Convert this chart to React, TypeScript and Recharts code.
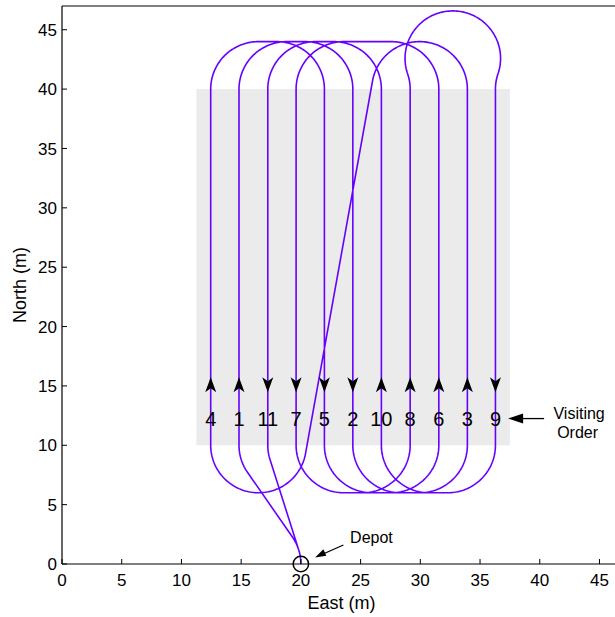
import React from 'react';
import {
  ComposedChart,
  Line,
  Scatter,
  XAxis,
  YAxis,
  ReferenceArea,
  ReferenceDot,
} from 'recharts';

// lanes of the coverage field, left to right
const laneX = [12.45, 14.82, 17.23, 19.6, 21.97, 24.35, 26.74, 29.15, 31.55, 33.94, 36.29];
const visitOrder = [4, 1, 11, 7, 5, 2, 10, 8, 6, 3, 9];
const laneDir = ['up', 'up', 'down', 'down', 'down', 'down', 'up', 'up', 'up', 'up', 'down'];
const laneBottom = 10;
const laneTop = 40;
const turnRadius = 4;
const depot = { x: 20, y: 0 };
const depotHeadingOut = 90;
const depotHeadingIn = 270;
const field = { x1: 11.25, x2: 37.5, y1: 10, y2: 40 };
const arrowY = 15.1;
const orderLabelY = 12.2;
const depotNote = { x: 21.19, y: 0.55 };
const orderNote = { x: 37.35, y: 12.25 };

const xTicks = [0, 5, 10, 15, 20, 25, 30, 35, 40, 45];
const yTicks = [0, 5, 10, 15, 20, 25, 30, 35, 40, 45];

const FONT = '"Liberation Sans", Arial, Helvetica, sans-serif';
const ROUTE = '#6600ff';

type Pt = { x: number; y: number };
type Pose = { x: number; y: number; h: number };
type Turn = 'L' | 'R';
const R = turnRadius;

function center(p: Pose, t: Turn): Pt {
  const s = t === 'L' ? 1 : -1;
  return { x: p.x - s * R * Math.sin(p.h), y: p.y + s * R * Math.cos(p.h) };
}

function sweep(c: Pt, from: Pt, to: Pt, t: Turn) {
  const a0 = Math.atan2(from.y - c.y, from.x - c.x);
  let a1 = Math.atan2(to.y - c.y, to.x - c.x);
  if (t === 'L') {
    while (a1 < a0 - 1e-6) a1 += 2 * Math.PI;
  } else {
    while (a1 > a0 + 1e-6) a1 -= 2 * Math.PI;
  }
  return [a0, a1];
}

function arc(c: Pt, from: Pt, to: Pt, t: Turn): Pt[] {
  const [a0, a1] = sweep(c, from, to, t);
  const n = Math.max(2, Math.ceil(Math.abs(a1 - a0) / (Math.PI / 90)));
  const out: Pt[] = [];
  for (let i = 0; i <= n; i++) {
    const a = a0 + ((a1 - a0) * i) / n;
    out.push({ x: c.x + R * Math.cos(a), y: c.y + R * Math.sin(a) });
  }
  return out;
}

function arcLen(c: Pt, from: Pt, to: Pt, t: Turn) {
  const [a0, a1] = sweep(c, from, to, t);
  return Math.abs(a1 - a0) * R;
}

// circle - straight - circle turn between two poses
function csc(p0: Pose, p1: Pose, w0: Turn, w1: Turn) {
  const c0 = center(p0, w0);
  const c1 = center(p1, w1);
  const vx = c1.x - c0.x;
  const vy = c1.y - c0.y;
  const D = Math.hypot(vx, vy);
  let dx: number;
  let dy: number;
  if (w0 === w1) {
    if (D < 1e-9) return null;
    dx = vx / D;
    dy = vy / D;
  } else {
    if (D < 2 * R) return null;
    const L = Math.sqrt(D * D - 4 * R * R);
    const k = w0 === 'L' ? -2 * R : 2 * R;
    dx = (vx * L + vy * k) / (D * D);
    dy = (vy * L - vx * k) / (D * D);
  }
  const s0 = w0 === 'L' ? 1 : -1;
  const s1 = w1 === 'L' ? 1 : -1;
  const t0 = { x: c0.x + s0 * R * dy, y: c0.y - s0 * R * dx };
  const t1 = { x: c1.x + s1 * R * dy, y: c1.y - s1 * R * dx };
  const len =
    arcLen(c0, p0, t0, w0) + Math.hypot(t1.x - t0.x, t1.y - t0.y) + arcLen(c1, t1, p1, w1);
  const pts = [...arc(c0, p0, t0, w0), ...arc(c1, t1, p1, w1)];
  return { len, pts };
}

// three circle (keyhole) turn
function ccc(p0: Pose, p1: Pose, outer: Turn, side: number) {
  const mid: Turn = outer === 'L' ? 'R' : 'L';
  const c0 = center(p0, outer);
  const c2 = center(p1, outer);
  const vx = c2.x - c0.x;
  const vy = c2.y - c0.y;
  const D = Math.hypot(vx, vy);
  if (D > 4 * R || D < 1e-9) return null;
  const h = Math.sqrt(4 * R * R - (D / 2) * (D / 2));
  const c1 = {
    x: (c0.x + c2.x) / 2 - side * h * (vy / D),
    y: (c0.y + c2.y) / 2 + side * h * (vx / D),
  };
  const t0 = { x: (c0.x + c1.x) / 2, y: (c0.y + c1.y) / 2 };
  const t1 = { x: (c1.x + c2.x) / 2, y: (c1.y + c2.y) / 2 };
  const len = arcLen(c0, p0, t0, outer) + arcLen(c1, t0, t1, mid) + arcLen(c2, t1, p1, outer);
  const pts = [...arc(c0, p0, t0, outer), ...arc(c1, t0, t1, mid), ...arc(c2, t1, p1, outer)];
  return { len, pts };
}

function dubins(p0: Pose, p1: Pose): Pt[] {
  const options = [
    csc(p0, p1, 'L', 'L'),
    csc(p0, p1, 'R', 'R'),
    csc(p0, p1, 'L', 'R'),
    csc(p0, p1, 'R', 'L'),
    ccc(p0, p1, 'L', 1),
    ccc(p0, p1, 'L', -1),
    ccc(p0, p1, 'R', 1),
    ccc(p0, p1, 'R', -1),
  ].filter(Boolean) as { len: number; pts: Pt[] }[];
  options.sort((a, b) => a.len - b.len);
  return options[0].pts;
}

const rad = (d: number) => (d * Math.PI) / 180;

function buildRoute(): Pt[] {
  const order = laneX.map((_, i) => i).sort((a, b) => visitOrder[a] - visitOrder[b]);
  let pose: Pose = { x: depot.x, y: depot.y, h: rad(depotHeadingOut) };
  const pts: Pt[] = [];
  for (const i of order) {
    const up = laneDir[i] === 'up';
    const h = up ? Math.PI / 2 : -Math.PI / 2;
    const start = { x: laneX[i], y: up ? laneBottom : laneTop, h };
    const end = { x: laneX[i], y: up ? laneTop : laneBottom, h };
    pts.push(...dubins(pose, start));
    pts.push({ x: end.x, y: end.y });
    pose = end;
  }
  pts.push(...dubins(pose, { x: depot.x, y: depot.y, h: rad(depotHeadingIn) }));
  return pts;
}

const route = buildRoute();
const arrows = laneX.map((x, i) => ({ x, y: arrowY, dir: laneDir[i] }));
const labels = laneX.map((x, i) => ({ x, y: orderLabelY, label: visitOrder[i] }));

const ArrowHead = (p: any) => {
  const { cx, cy, payload } = p;
  const s = payload.dir === 'up' ? -1 : 1;
  const d = `M${cx},${cy + s * 7.5} L${cx + 5.5},${cy - s * 7.5} L${cx},${cy - s * 3.5} L${cx - 5.5},${cy - s * 7.5} Z`;
  return <path d={d} fill="#000" />;
};

const OrderLabel = (p: any) => (
  <text x={p.cx} y={p.cy + 7} textAnchor="middle" fontSize={20} fontFamily={FONT} fill="#000">
    {p.payload.label}
  </text>
);

const DepotMark = (p: any) => (
  <circle cx={p.cx} cy={p.cy} r={7.7} fill="none" stroke="#000" strokeWidth={1.5} />
);

const DepotNote = (p: any) => {
  const { cx, cy } = p;
  return (
    <g>
      <line x1={cx + 8} y1={cy - 3.5} x2={cx + 28.3} y2={cy - 12.5} stroke="#000" strokeWidth={1.3} />
      <path d={`M${cx},${cy} L${cx + 8.3},${cy - 8.3} L${cx + 11.2},${cy - 1.7} Z`} fill="#000" />
      <text x={cx + 35} y={cy - 14.5} fontSize={16} fontFamily={FONT} fill="#000">
        Depot
      </text>
    </g>
  );
};

const OrderNote = (p: any) => {
  const { cx, cy } = p;
  return (
    <g>
      <line x1={cx + 12} y1={cy} x2={cx + 36} y2={cy} stroke="#000" strokeWidth={1.3} />
      <path d={`M${cx},${cy} L${cx + 15},${cy - 5} L${cx + 15},${cy + 5} Z`} fill="#000" />
      <text x={cx + 71} y={cy} textAnchor="middle" fontSize={16} fontFamily={FONT} fill="#000">
        Visiting
      </text>
      <text x={cx + 69.5} y={cy + 19} textAnchor="middle" fontSize={16} fontFamily={FONT} fill="#000">
        Order
      </text>
    </g>
  );
};

const tickStyle = { fontSize: 17, fill: '#000', fontFamily: FONT };

export default function App() {
  return (
    <div style={{ position: 'absolute', left: 0, top: 0, width: 615, height: 617, overflow: 'hidden', background: '#fff' }}>
      <ComposedChart width={615} height={617} margin={{ top: 5, right: 0, bottom: 0, left: 0 }}>
        <XAxis
          type="number"
          dataKey="x"
          domain={[0, 46.3]}
          ticks={xTicks}
          interval={0}
          height={53}
          tickSize={-5}
          tickMargin={15}
          tick={tickStyle}
          axisLine={{ stroke: '#000', strokeWidth: 1.2 }}
          tickLine={{ stroke: '#000' }}
          label={{ value: 'East (m)', position: 'insideBottom', offset: 8, fontSize: 18, fill: '#000', fontFamily: FONT, dx: 3 }}
        />
        <XAxis
          xAxisId="top"
          orientation="top"
          type="number"
          domain={[0, 46.3]}
          ticks={xTicks}
          interval={0}
          allowDataOverflow
          height={1}
          tickSize={-5}
          tick={false}
          axisLine={{ stroke: '#000', strokeWidth: 1.2 }}
          tickLine={{ stroke: '#000' }}
        />
        <YAxis
          type="number"
          dataKey="y"
          domain={[0, 47]}
          ticks={yTicks}
          interval={0}
          width={62}
          tickSize={-5}
          tickMargin={10}
          tick={tickStyle}
          axisLine={{ stroke: '#000', strokeWidth: 1.2 }}
          tickLine={{ stroke: '#000' }}
          label={{
            value: 'North (m)',
            angle: -90,
            position: 'insideLeft',
            offset: 20,
            fontSize: 18,
            fill: '#000',
            fontFamily: FONT,
            style: { textAnchor: 'middle' },
          }}
        />
        <ReferenceArea
          x1={field.x1}
          x2={field.x2}
          y1={field.y1}
          y2={field.y2}
          fill="#ebebeb"
          fillOpacity={1}
          stroke="none"
        />
        <Scatter data={arrows} shape={ArrowHead} isAnimationActive={false} />
        <Scatter data={labels} shape={OrderLabel} isAnimationActive={false} />
        <Line
          data={route}
          dataKey="y"
          type="linear"
          stroke={ROUTE}
          strokeWidth={1.6}
          dot={false}
          activeDot={false}
          isAnimationActive={false}
        />
        <ReferenceDot x={depot.x} y={depot.y} ifOverflow="visible" shape={DepotMark} />
        <ReferenceDot x={depotNote.x} y={depotNote.y} ifOverflow="visible" shape={DepotNote} />
        <ReferenceDot x={orderNote.x} y={orderNote.y} ifOverflow="visible" shape={OrderNote} />
      </ComposedChart>
    </div>
  );
}
